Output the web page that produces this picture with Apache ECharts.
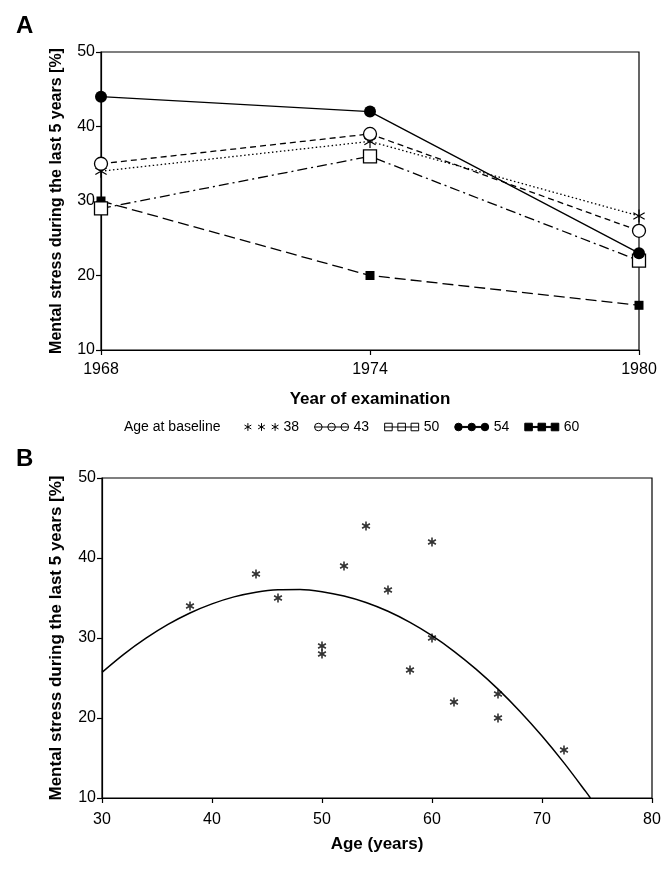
<!DOCTYPE html>
<html><head><meta charset="utf-8">
<script src="https://cdn.jsdelivr.net/npm/echarts@6/dist/echarts.min.js"></script>
<style>html,body{margin:0;padding:0;background:#fff}#c{width:666px;height:869px}</style>
</head><body><div id="c"></div>
<script>
// Panel A data
const years = [1968, 1974, 1980];
const cohorts = ['38', '43', '50', '54', '60'];
const stress38 = [34, 38, 28];
const stress43 = [35, 39, 26];
const stress50 = [29, 36, 22];
const stress54 = [44, 42, 23];
const stress60 = [30, 20, 16];
// Panel B data
const pointAges   = [38, 44, 50, 46, 52, 58, 50, 56, 62, 54, 60, 66, 60, 66, 72];
const pointStress = [34, 38, 28, 35, 39, 26, 29, 36, 22, 44, 42, 23, 30, 20, 16];
// fitted curve
const curveAges   = [30, 32, 34, 36, 38, 40, 42, 44, 46, 48, 50, 52, 54, 56, 58, 60, 62, 64, 66, 68, 70, 72, 74, 74.4];
const curveStress = [25.71, 27.99, 29.98, 31.70, 33.13, 34.27, 35.14, 35.73, 36.03, 36.06, 35.79, 35.25, 34.44, 33.34, 31.95, 30.29, 28.34, 26.11, 23.61, 20.82, 17.75, 14.39, 10.76, 10.0];

const FONT = 'Liberation Sans, Arial, sans-serif';
const ASTER = 'path://M0,-1L0,1M-0.87,-0.5L0.87,0.5M-0.87,0.5L0.87,-0.5';

function pair(xs, ys) { return xs.map((x, i) => [x, ys[i]]); }

const icons = {
  '38': 'path://M4,0L4,8M0.5,2L7.5,6M0.5,6L7.5,2M18,0L18,8M14.5,2L21.5,6M14.5,6L21.5,2M32,0L32,8M28.5,2L35.5,6M28.5,6L35.5,2',
  '43': 'path://M0,4A4,4,0,1,0,8,4A4,4,0,1,0,0,4ZM14,4A4,4,0,1,0,22,4A4,4,0,1,0,14,4ZM28,4A4,4,0,1,0,36,4A4,4,0,1,0,28,4ZM0,4L36,4',
  '50': 'path://M0,0L8,0L8,8L0,8ZM14,0L22,0L22,8L14,8ZM28,0L36,0L36,8L28,8ZM0,4L36,4',
  '54': 'path://M0,4A4,4,0,1,0,8,4A4,4,0,1,0,0,4ZM14,4A4,4,0,1,0,22,4A4,4,0,1,0,14,4ZM28,4A4,4,0,1,0,36,4A4,4,0,1,0,28,4ZM8,3.4L14,3.4L14,4.6L8,4.6ZM22,3.4L28,3.4L28,4.6L22,4.6Z',
  '60': 'path://M0,0L8,0L8,8L0,8ZM14,0L22,0L22,8L14,8ZM28,0L36,0L36,8L28,8ZM8,3.4L14,3.4L14,4.6L8,4.6ZM22,3.4L28,3.4L28,4.6L22,4.6Z'
};
const iconFill = {'38': '#000', '43': '#fff', '50': '#fff', '54': '#000', '60': '#000'};

const axisCommon = {
  axisLine: {show: true, lineStyle: {color: '#000', width: 1.2}},
  axisTick: {show: true, length: 5, lineStyle: {color: '#000', width: 1.2}},
  splitLine: {show: false},
  axisLabel: {color: '#000', fontSize: 16, fontFamily: FONT},
  nameTextStyle: {color: '#000', fontSize: 16, fontWeight: 'bold', fontFamily: FONT}
};

function lineSeries(name, data, symbol, size, dash, fill, bw) {
  return {
    name: name, type: 'line', xAxisIndex: 0, yAxisIndex: 0,
    data: pair(years, data),
    symbol: symbol, symbolSize: size, symbolKeepAspect: true,
    showSymbol: true,
    lineStyle: {color: '#000', width: 1.3, type: dash},
    itemStyle: {color: fill, borderColor: '#000', borderWidth: bw},
    emphasis: {disabled: true},
    z: 3
  };
}

const option = {
  backgroundColor: '#fff',
  animation: false,
  textStyle: {fontFamily: FONT},
  title: [
    {text: 'A', left: 11, top: 9, textStyle: {fontSize: 24, fontWeight: 'bold', color: '#000', fontFamily: FONT}},
    {text: 'B', left: 11, top: 442, textStyle: {fontSize: 24, fontWeight: 'bold', color: '#000', fontFamily: FONT}}
  ],
  graphic: [{
    type: 'text', left: 124, top: 420,
    style: {text: 'Age at baseline', fontSize: 14, fontFamily: FONT, fill: '#000'}
  }],
  legend: {
    left: 239, top: 415,
    itemWidth: 34, itemHeight: 8, itemGap: 15,
    textStyle: {fontSize: 14, color: '#000', fontFamily: FONT},
    selectedMode: false,
    data: cohorts.map(c => ({
      name: c, icon: icons[c],
      itemStyle: {color: iconFill[c], borderColor: '#000', borderWidth: 1}
    }))
  },
  grid: [
    {left: 101, right: 27, top: 52, height: 298, show: true, borderColor: '#000', borderWidth: 1.2},
    {left: 102, right: 14, top: 478, height: 320, show: true, borderColor: '#000', borderWidth: 1.2}
  ],
  xAxis: [
    Object.assign({}, axisCommon, {
      type: 'value', gridIndex: 0, min: 1968, max: 1980, interval: 6,
      name: 'Year of examination', nameLocation: 'middle', nameGap: 41,
      axisLabel: Object.assign({}, axisCommon.axisLabel, {margin: 12, formatter: v => String(v)}),
      nameTextStyle: Object.assign({}, axisCommon.nameTextStyle, {fontSize: 17})
    }),
    Object.assign({}, axisCommon, {
      type: 'value', gridIndex: 1, min: 30, max: 80, interval: 10,
      name: 'Age (years)', nameLocation: 'middle', nameGap: 38,
      axisLabel: Object.assign({}, axisCommon.axisLabel, {margin: 14, formatter: v => String(v)}),
      nameTextStyle: Object.assign({}, axisCommon.nameTextStyle, {fontSize: 17})
    })
  ],
  yAxis: [
    Object.assign({}, axisCommon, {
      type: 'value', gridIndex: 0, min: 10, max: 50, interval: 10,
      name: 'Mental stress during the last 5 years [%]', nameLocation: 'middle', nameGap: 36,
      axisLabel: Object.assign({}, axisCommon.axisLabel, {margin: 6}),
      nameTextStyle: Object.assign({}, axisCommon.nameTextStyle, {fontSize: 16})
    }),
    Object.assign({}, axisCommon, {
      type: 'value', gridIndex: 1, min: 10, max: 50, interval: 10,
      name: 'Mental stress during the last 5 years [%]', nameLocation: 'middle', nameGap: 37,
      axisLabel: Object.assign({}, axisCommon.axisLabel, {margin: 6}),
      nameTextStyle: Object.assign({}, axisCommon.nameTextStyle, {fontSize: 17})
    })
  ],
  series: [
    lineSeries('60', stress60, 'rect', 9, [11, 5], '#000', 0),
    lineSeries('50', stress50, 'rect', 13, [10, 4, 2, 4], '#fff', 1.3),
    lineSeries('38', stress38, ASTER, 13, [1.5, 2.5], '#000', 1.2),
    lineSeries('43', stress43, 'circle', 13, [6, 4], '#fff', 1.3),
    lineSeries('54', stress54, 'circle', 12, 'solid', '#000', 0),
    {
      name: 'fit', type: 'line', xAxisIndex: 1, yAxisIndex: 1,
      data: pair(curveAges, curveStress), smooth: 0.3, showSymbol: false, symbol: 'none',
      lineStyle: {color: '#000', width: 1.5}, emphasis: {disabled: true}, z: 2
    },
    {
      name: 'points', type: 'scatter', xAxisIndex: 1, yAxisIndex: 1,
      data: pair(pointAges, pointStress), symbol: ASTER, symbolSize: 9, symbolKeepAspect: true,
      itemStyle: {color: '#000', borderColor: '#000', borderWidth: 1.6}, emphasis: {disabled: true}, z: 3
    }
  ]
};
const chart = echarts.init(document.getElementById('c'), null, {renderer: 'canvas'});
chart.setOption(option);
</script>
</body></html>
